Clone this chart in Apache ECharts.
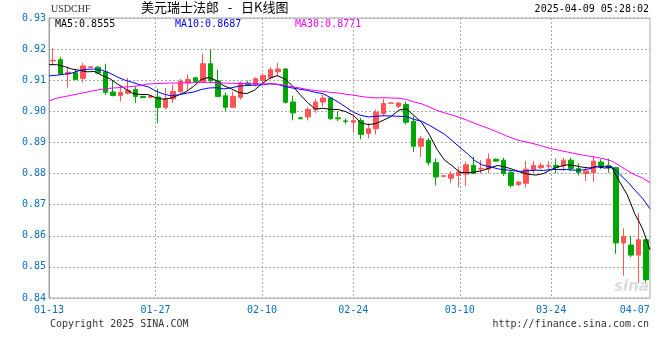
<!DOCTYPE html>
<html><head><meta charset="utf-8">
<script src="https://cdn.jsdelivr.net/npm/echarts@6.0.0/dist/echarts.min.js"></script>
<style>html,body{margin:0;padding:0;background:#fff}#c{width:660px;height:360px}</style>
</head><body><div id="c"></div>
<script>
const opens  = [0.9162,0.9166,0.9120,0.9124,0.9106,0.9141,0.9142,0.9127,0.9062,0.9051,0.9058,0.9070,0.9048,0.9045,0.9046,0.9012,0.9040,0.9064,0.9091,0.9108,
0.9096,0.9153,0.9098,0.9050,0.9013,0.9045,0.9091,0.9086,0.9099,0.9109,0.9127,0.9136,0.9030,0.8979,0.8982,0.9006,0.9030,0.9043,0.8979,0.8969,
0.8965,0.8970,0.8929,0.8944,0.8993,0.9026,0.9016,0.9022,0.8968,0.8888,0.8906,0.8835,0.8791,0.8785,0.8794,0.8798,0.8826,0.8815,0.8814,0.8846,
0.8843,0.8803,0.8765,0.8769,0.8812,0.8819,0.8824,0.8826,0.8824,0.8843,0.8816,0.8800,0.8803,0.8837,0.8826,0.8819,0.8577,0.8570,0.8538,0.8587];
const closes = [0.9164,0.9120,0.9126,0.9102,0.9146,0.9143,0.9123,0.9061,0.9051,0.9061,0.9067,0.9048,0.9044,0.9049,0.9012,0.9040,0.9064,0.9096,0.9102,0.9096,
0.9153,0.9098,0.9048,0.9013,0.9048,0.9091,0.9085,0.9105,0.9115,0.9134,0.9136,0.9029,0.8995,0.8976,0.9006,0.9030,0.9043,0.8976,0.8976,0.8968,
0.8970,0.8926,0.8944,0.8997,0.9025,0.9027,0.9027,0.8965,0.8888,0.8912,0.8835,0.8789,0.8793,0.8798,0.8805,0.8828,0.8800,0.8817,0.8846,0.8840,
0.8800,0.8762,0.8773,0.8814,0.8826,0.8826,0.8826,0.8819,0.8843,0.8816,0.8803,0.8808,0.8840,0.8824,0.8819,0.8577,0.8598,0.8538,0.8587,0.8459];
const lows   = [0.9150,0.9118,0.9077,0.9100,0.9093,0.9140,0.9120,0.9053,0.9048,0.9032,0.9054,0.9027,0.9043,0.9041,0.8963,0.9006,0.9027,0.9057,0.9070,0.9094,
0.9091,0.9091,0.9045,0.9000,0.9011,0.9038,0.9083,0.9080,0.9091,0.9102,0.9112,0.9025,0.8971,0.8975,0.8971,0.8995,0.9016,0.8973,0.8968,0.8960,
0.8931,0.8910,0.8913,0.8926,0.8984,0.9026,0.9010,0.8958,0.8869,0.8853,0.8826,0.8762,0.8791,0.8769,0.8757,0.8760,0.8798,0.8800,0.8801,0.8838,
0.8792,0.8755,0.8760,0.8755,0.8803,0.8814,0.8815,0.8801,0.8808,0.8808,0.8794,0.8776,0.8773,0.8814,0.8803,0.8542,0.8472,0.8531,0.8449,0.8451];
const highs  = [0.9203,0.9174,0.9144,0.9136,0.9155,0.9144,0.9145,0.9153,0.9101,0.9080,0.9107,0.9080,0.9049,0.9052,0.9072,0.9075,0.9086,0.9104,0.9118,0.9110,
0.9185,0.9198,0.9134,0.9061,0.9064,0.9096,0.9098,0.9109,0.9123,0.9142,0.9155,0.9139,0.9050,0.8983,0.9013,0.9040,0.9054,0.9046,0.9000,0.8977,
0.8989,0.8979,0.8963,0.9006,0.9040,0.9028,0.9027,0.9032,0.8984,0.8920,0.8914,0.8849,0.8793,0.8808,0.8822,0.8838,0.8854,0.8843,0.8865,0.8848,
0.8851,0.8811,0.8776,0.8840,0.8840,0.8835,0.8840,0.8848,0.8851,0.8851,0.8833,0.8822,0.8854,0.8846,0.8848,0.8822,0.8624,0.8600,0.8673,0.8590];

const ma5  = [0.9150,0.9150,0.9144,0.9136,0.9132,0.9127,0.9128,0.9115,0.9105,0.9088,0.9073,0.9058,0.9054,0.9054,0.9044,0.9039,0.9042,0.9052,0.9063,0.9080,
0.9102,0.9109,0.9099,0.9082,0.9072,0.9060,0.9057,0.9068,0.9089,0.9106,0.9115,0.9104,0.9082,0.9054,0.9028,0.9007,0.9010,0.9006,0.9006,0.8999,
0.8987,0.8963,0.8957,0.8961,0.8972,0.8984,0.9004,0.9008,0.8986,0.8964,0.8925,0.8878,0.8843,0.8825,0.8804,0.8803,0.8805,0.8810,0.8819,0.8826,
0.8821,0.8813,0.8804,0.8798,0.8795,0.8800,0.8813,0.8822,0.8828,0.8826,0.8821,0.8818,0.8822,0.8818,0.8819,0.8774,0.8732,0.8671,0.8624,0.8555];
const ma10 = [0.9114,0.9116,0.9119,0.9123,0.9131,0.9135,0.9136,0.9132,0.9123,0.9110,0.9100,0.9093,0.9085,0.9079,0.9066,0.9056,0.9050,0.9053,0.9058,0.9062,
0.9070,0.9075,0.9076,0.9072,0.9076,0.9081,0.9083,0.9084,0.9085,0.9089,0.9087,0.9080,0.9075,0.9071,0.9067,0.9061,0.9057,0.9044,0.9030,0.9014,
0.8997,0.8987,0.8982,0.8984,0.8986,0.8985,0.8984,0.8983,0.8974,0.8968,0.8955,0.8941,0.8926,0.8906,0.8884,0.8864,0.8841,0.8827,0.8822,0.8815,
0.8812,0.8809,0.8807,0.8809,0.8811,0.8810,0.8813,0.8813,0.8813,0.8811,0.8811,0.8815,0.8822,0.8823,0.8822,0.8798,0.8775,0.8747,0.8721,0.8687];
const ma30 = [0.9034,0.9042,0.9047,0.9052,0.9057,0.9062,0.9067,0.9071,0.9074,0.9076,0.9078,0.9080,0.9083,0.9088,0.9089,0.9090,0.9091,0.9091,0.9092,0.9092,
0.9093,0.9093,0.9092,0.9091,0.9090,0.9090,0.9089,0.9089,0.9088,0.9088,0.9087,0.9084,0.9079,0.9075,0.9070,0.9067,0.9064,0.9061,0.9059,0.9055,
0.9052,0.9048,0.9045,0.9043,0.9044,0.9043,0.9042,0.9038,0.9030,0.9024,0.9014,0.9003,0.8995,0.8988,0.8980,0.8971,0.8961,0.8952,0.8943,0.8933,
0.8922,0.8913,0.8905,0.8900,0.8894,0.8887,0.8880,0.8875,0.8870,0.8865,0.8860,0.8856,0.8852,0.8847,0.8840,0.8825,0.8810,0.8796,0.8786,0.8771];

const tickIdx    = [0, 14, 28, 40, 54, 66, 77];
const tickLabels = ['01-13','01-27','02-10','02-24','03-10','03-24','04-07'];
const maNames    = ['MA5','MA10','MA30'];
const maLast     = ['0.8555','0.8687','0.8771'];

const cats = closes.map((_, i) => String(i));
const kData = closes.map((c, i) => [opens[i], c, lows[i], highs[i]]);
const gridTicks = tickIdx.slice(1, -1);

const MONO = '"DejaVu Sans Mono", monospace';
const BLUE = '#0a6ebd';
const maColors = ['#000000', '#0000ff', '#ff00ff'];
const maX = [55, 175, 295];

const chart = echarts.init(document.getElementById('c'), null, {renderer: 'canvas'});
chart.setOption({
  animation: false,
  backgroundColor: '#fff',
  grid: {left: 49, top: 18, width: 601, height: 280, show: true, borderColor: '#a8a8a8', borderWidth: 1, backgroundColor: 'transparent'},
  xAxis: [
    {type: 'category', data: cats, boundaryGap: true, show: false, gridIndex: 0},
    {type: 'category', data: cats, boundaryGap: false, gridIndex: 0, position: 'bottom',
     axisLine: {show: false}, axisTick: {show: false},
     axisLabel: {interval: (i) => tickIdx.includes(i), color: BLUE, fontFamily: MONO, fontSize: 10, margin: 7,
                 hideOverlap: false,
                 formatter: (v) => { const k = tickIdx.indexOf(+v); return k >= 0 ? tickLabels[k] : ''; }},
     splitLine: {show: true, interval: (i) => gridTicks.includes(i),
                 lineStyle: {color: '#a8a8a8', type: [2, 2], width: 1}}}
  ],
  yAxis: {
    type: 'value', min: 0.84, max: 0.93, interval: 0.01,
    axisLine: {show: true, lineStyle: {color: '#999', width: 1}},
    axisTick: {show: false},
    axisLabel: {color: BLUE, fontFamily: MONO, fontSize: 10, margin: 3, formatter: (v) => v.toFixed(2)},
    splitLine: {show: true, lineStyle: {color: '#a8a8a8', type: [2, 2], width: 1}}
  },
  series: [
    {type: 'candlestick', xAxisIndex: 0, data: kData, barWidth: 5,
     itemStyle: {color: '#ff5555', color0: '#00a600', borderColor: '#ff5555', borderColor0: '#00a600', borderWidth: 1}},
    {type: 'line', xAxisIndex: 1, data: ma5, symbol: 'none', lineStyle: {color: maColors[0], width: 1}},
    {type: 'line', xAxisIndex: 1, data: ma10, symbol: 'none', lineStyle: {color: maColors[1], width: 1}},
    {type: 'line', xAxisIndex: 1, data: ma30, symbol: 'none', lineStyle: {color: maColors[2], width: 1}}
  ],
  graphic: [
    {type: 'text', left: 51, top: 4, style: {text: 'USDCHF', font: '10px "Liberation Serif", serif', fill: '#333'}},
    {type: 'text', left: 141, top: 1, style: {text: '美元瑞士法郎   -   日K线图', font: '13px "Noto Sans CJK SC", sans-serif', fill: '#000'}},
    {type: 'text', right: 11, top: 4, style: {text: '2025-04-09 05:28:02', font: '10px ' + MONO, fill: '#000'}},
    ...maNames.map((n, i) => ({type: 'text', left: maX[i], top: 19,
      style: {text: n + ':' + maLast[i], font: '10px ' + MONO, fill: maColors[i]}})),
    {type: 'text', left: 50, top: 319, style: {text: 'Copyright 2025 SINA.COM', font: '10px ' + MONO, fill: '#333'}},
    {type: 'text', right: 11, top: 319, style: {text: 'http://finance.sina.com.cn', font: '10px ' + MONO, fill: '#333'}},
    {type: 'text', left: 614, top: 280, style: {text: 'sina', font: 'italic bold 15px "DejaVu Sans", sans-serif', fill: '#dcdcdc'}}
  ]
});
</script>
</body></html>
